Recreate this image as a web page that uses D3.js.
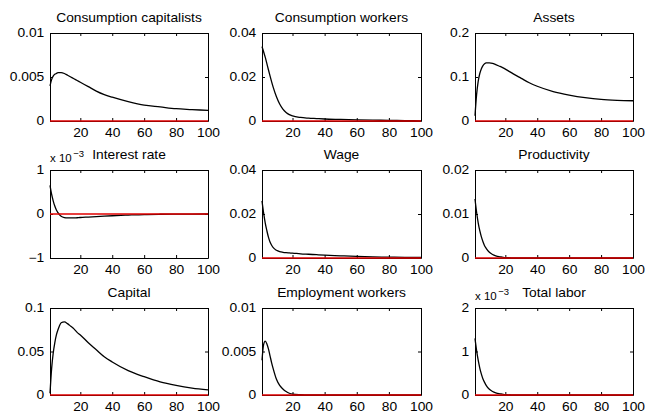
<!DOCTYPE html>
<html>
<head>
<meta charset="utf-8">
<script src="https://cdn.jsdelivr.net/npm/d3@7"></script>
<style>
  html, body { margin: 0; padding: 0; background: #fff; }
  svg text { font-family: "Liberation Sans", Arial, Helvetica, sans-serif; fill: #000; font-size: 12px; }
</style>
</head>
<body>
<svg id="fig" width="645" height="414"></svg>
<script>
// Impulse responses, periods after the shock
const periods = [1, 2, 3, 4, 5, 6, 7, 8, 10, 12, 14, 16, 18, 20, 25, 30, 35, 40, 50, 60, 70, 80, 90, 100];

const consumptionCapitalists = [0.0040, 0.0047, 0.0051, 0.0053, 0.0054, 0.0055, 0.0055, 0.0055, 0.0054, 0.0052, 0.0050, 0.0048, 0.0046, 0.0044, 0.0039, 0.0034, 0.0030, 0.0027, 0.0022, 0.0018, 0.0016, 0.0014, 0.0013, 0.0012];
const consumptionWorkers = [0.0338, 0.0315, 0.0290, 0.0262, 0.0233, 0.0205, 0.0178, 0.0153, 0.0110, 0.0077, 0.0054, 0.0039, 0.0029, 0.0023, 0.0016, 0.0013, 0.0011, 0.0009, 0.0007, 0.0005, 0.0004, 0.0003, 0.0002, 0.0001];
const assets = [0.012, 0.060, 0.090, 0.108, 0.119, 0.126, 0.130, 0.132, 0.132, 0.131, 0.128, 0.125, 0.122, 0.118, 0.107, 0.097, 0.087, 0.079, 0.067, 0.059, 0.053, 0.049, 0.047, 0.046];
const interestRate = [0.00065, 0.00045, 0.00030, 0.00018, 0.00009, 0.00003, -0.00002, -0.00005, -0.00008, -0.00009, -0.00009, -0.00009, -0.000085, -0.00008, -0.00007, -0.00006, -0.00005, -0.00004, -0.000025, -0.000012, -0.000006, -0.000003, -0.000001, 0];
const wage = [0.0260, 0.0205, 0.0160, 0.0125, 0.0095, 0.0073, 0.0058, 0.0047, 0.0035, 0.0029, 0.0026, 0.0024, 0.0023, 0.0022, 0.0019, 0.0017, 0.0015, 0.0013, 0.0010, 0.0007, 0.0005, 0.0004, 0.0003, 0.0003];
const productivity = [0.0134, 0.0104, 0.0080, 0.0062, 0.0048, 0.0037, 0.0028, 0.0022, 0.0013, 0.0008, 0.0005, 0.0003, 0.0002, 0.0001, 0.00004, 0.00001, 0, 0, 0, 0, 0, 0, 0, 0];
const capital = [0.002, 0.030, 0.048, 0.060, 0.069, 0.075, 0.080, 0.083, 0.084, 0.082, 0.079, 0.076, 0.072, 0.069, 0.060, 0.052, 0.044, 0.038, 0.028, 0.021, 0.015, 0.011, 0.008, 0.006];
const employmentWorkers = [0.0040, 0.0058, 0.0062, 0.0059, 0.0053, 0.0045, 0.0037, 0.0030, 0.0018, 0.0011, 0.0007, 0.0004, 0.0002, 0.0001, 0.00003, 0, 0, 0, 0, 0, 0, 0, 0, 0];
const totalLabor = [0.00130, 0.00102, 0.00080, 0.00062, 0.00048, 0.00037, 0.00029, 0.00022, 0.00013, 0.00008, 0.00005, 0.00003, 0.00002, 0.00001, 0.000003, 0, 0, 0, 0, 0, 0, 0, 0, 0];

const titles = ["Consumption capitalists", "Consumption workers", "Assets",
                "Interest rate", "Wage", "Productivity",
                "Capital", "Employment workers", "Total labor"];
const seriesList = [consumptionCapitalists, consumptionWorkers, assets,
                    interestRate, wage, productivity,
                    capital, employmentWorkers, totalLabor];
const yTickValues = [[0, 0.005, 0.01], [0, 0.02, 0.04], [0, 0.1, 0.2],
                     [-0.001, 0, 0.001], [0, 0.02, 0.04], [0, 0.01, 0.02],
                     [0, 0.05, 0.1], [0, 0.005, 0.01], [0, 0.001, 0.002]];
const yTickLabels = [["0", "0.005", "0.01"], ["0", "0.02", "0.04"], ["0", "0.1", "0.2"],
                     ["\u22121", "0", "1"], ["0", "0.02", "0.04"], ["0", "0.01", "0.02"],
                     ["0", "0.05", "0.1"], ["0", "0.005", "0.01"], ["0", "1", "2"]];
const exponentLabels = ["", "", "", "\u22123", "", "", "", "", "\u22123"];
const xTickValues = [20, 40, 60, 80, 100];
const steadyState = 0;

// Layout of the 3x3 grid of axes
const colX = [[50, 208], [262, 421], [475, 633]];
const rowY = [[33, 121], [170, 258], [308, 395]];
const SX = 1.15;   // horizontal stretch of the lettering
const svg = d3.select("#fig");

seriesList.forEach((values, i) => {
  const [x0, x1] = colX[i % 3];
  const [y0, y1] = rowY[Math.floor(i / 3)];
  const w = x1 - x0, h = y1 - y0;
  const ticks = yTickValues[i];
  const labels = yTickLabels[i];

  const x = d3.scaleLinear().domain([1, 100]).range([0, w]);
  const y = d3.scaleLinear().domain([ticks[0], ticks[ticks.length - 1]]).range([h, 0]);

  const g = svg.append("g").attr("transform", `translate(${x0},${y0})`);

  // Axes with inward ticks, mirrored on top and right
  g.append("g").attr("transform", `translate(0,${h})`)
    .call(d3.axisBottom(x).tickValues(xTickValues).tickSizeInner(-3).tickSizeOuter(0).tickPadding(7));
  g.append("g")
    .call(d3.axisLeft(y).tickValues(ticks).tickFormat((d, k) => labels[k]).tickSizeInner(-3).tickSizeOuter(0).tickPadding(5));
  g.append("g")
    .call(d3.axisTop(x).tickValues(xTickValues).tickFormat("").tickSizeInner(-3).tickSizeOuter(0));
  g.append("g").attr("transform", `translate(${w},0)`)
    .call(d3.axisRight(y).tickValues(ticks).tickFormat("").tickSizeInner(-3).tickSizeOuter(0));

  g.selectAll("g").attr("font-size", null).attr("font-family", null);
  g.selectAll(".tick text").attr("transform", `scale(${SX},1)`);

  // Response path
  const line = d3.line()
    .x((d, k) => x(periods[k]))
    .y(d => y(d))
    .curve(d3.curveMonotoneX);
  g.append("path")
    .datum(values)
    .attr("fill", "none")
    .attr("stroke", "#000")
    .attr("stroke-width", 1.3)
    .attr("d", line);

  // Steady-state reference line
  g.append("line")
    .attr("x1", x(1)).attr("x2", x(100))
    .attr("y1", y(steadyState)).attr("y2", y(steadyState))
    .attr("stroke", "#e00000")
    .attr("stroke-width", 1.6);

  // Title
  g.append("text")
    .attr("transform", `translate(${w / 2},-11.5) scale(${SX},1)`)
    .attr("text-anchor", "middle")
    .text(titles[i]);

  // Axis exponent multiplier
  if (exponentLabels[i]) {
    const t = g.append("text")
      .attr("transform", `translate(0,-8)`)
      .style("font-size", "11.5px");
    t.append("tspan").text("x 10");
    t.append("tspan").attr("dx", 1.5).attr("dy", -5.5).style("font-size", "9.5px").text(exponentLabels[i]);
  }
});
</script>
</body>
</html>
